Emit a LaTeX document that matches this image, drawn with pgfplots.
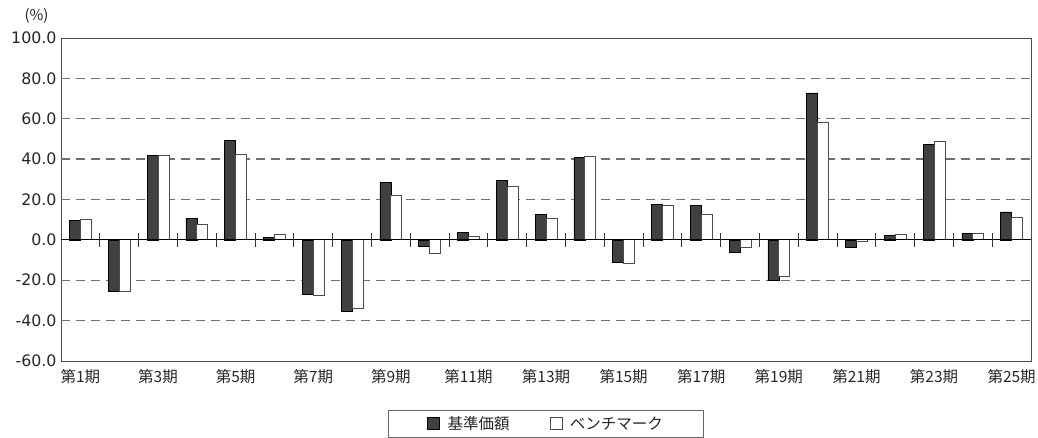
\documentclass[border=0pt]{standalone}
\usepackage{fontspec}
\setmainfont{Noto Sans CJK JP}
\newfontfamily\numfont{DejaVu Sans}
\usepackage{pgfplots}
\usepackage{pgfplotstable}
\pgfplotsset{compat=1.18}

\definecolor{navfill}{HTML}{404040}
\definecolor{gridgray}{HTML}{707070}
\definecolor{txt}{HTML}{262626}

% period, fund NAV return, benchmark return (%)
\pgfplotstableread{
x nav bm
1 9.6 10.1
2 -25.6 -25.6
3 42.0 41.8
4 10.6 7.6
5 49.3 42.3
6 1.3 2.5
7 -27.1 -27.6
8 -35.4 -33.7
9 28.6 22.2
10 -3.3 -6.6
11 3.6 1.5
12 29.4 26.5
13 12.6 10.7
14 40.7 41.2
15 -11.1 -11.6
16 17.5 16.9
17 17.2 12.4
18 -6.0 -3.8
19 -20.0 -18.2
20 72.8 58.0
21 -3.8 -0.8
22 2.1 2.6
23 47.3 48.8
24 3.3 3.0
25 13.9 11.2
}\data

\begin{document}
\begin{tikzpicture}
\begin{axis}[
    scale only axis,
    width=970pt, height=323pt,
    xmin=0.5, xmax=25.5,
    ymin=-60, ymax=100,
    ytick={-60,-40,...,100},
    extra y ticks={-40,-20,20,40,60,80},
    extra y tick labels={},
    extra y tick style={grid=major},
    xtick={1,3,...,25},
    xticklabels={第1期,第3期,第5期,第7期,第9期,第11期,第13期,第15期,第17期,第19期,第21期,第23期,第25期},
    major tick length=0pt,
    grid style={gridgray, line width=1.3pt, dash pattern=on 9pt off 6pt},
    axis line style={black!70, line width=0.9pt},
    /pgf/number format/assume math mode=true,
    yticklabel style={font=\numfont\fontsize{15.8}{17}\selectfont, txt, xshift=-1pt,
        /pgf/number format/.cd, fixed, fixed zerofill, precision=1},
    xticklabel style={font=\fontsize{15.5}{17}\selectfont, txt, yshift=-5pt},
    ybar=0pt,
    bar width=11pt,
    legend columns=2,
    legend style={at={(0.5,-0.152)}, anchor=north, draw=black!60, line width=0.9pt,
        font=\fontsize{15.5}{17}\selectfont, text=txt, inner xsep=39pt, inner ysep=4pt,
        /tikz/every even column/.append style={column sep=38pt}},
    legend image code/.code={\draw[#1, line width=0.8pt] (0pt,-6pt) rectangle (12pt,6pt);
        \path[draw=none, fill=none] (0pt,0pt) -- (18pt,0pt);},
]
\addplot[draw=black, fill=navfill, line width=0.6pt] table[x=x, y=nav] {\data};
\addplot[draw=black!70, fill=white, line width=0.8pt] table[x=x, y=bm] {\data};
\legend{基準価額, ベンチマーク}
\draw[black, line width=0.9pt] (axis cs:0.5,0) -- (axis cs:25.5,0);
\pgfplotsinvokeforeach{1.5,2.5,...,24.5}{
  \draw[black!80, line width=0.8pt] (axis cs:#1,0) ++(0pt,-7pt) -- ++(0pt,14pt);
}
\coordinate (bl) at (rel axis cs:0,0);
\coordinate (tr) at (rel axis cs:1,1);
\end{axis}
\node[font=\fontsize{15}{17}\selectfont, text=txt] at ([shift={(-24.5pt,22pt)}]bl |- tr) {(\%)};
\pgfresetboundingbox
\path[use as bounding box] ([shift={(-61pt,-77pt)}]bl) rectangle ([shift={(7pt,38pt)}]tr);
\end{tikzpicture}
\end{document}
